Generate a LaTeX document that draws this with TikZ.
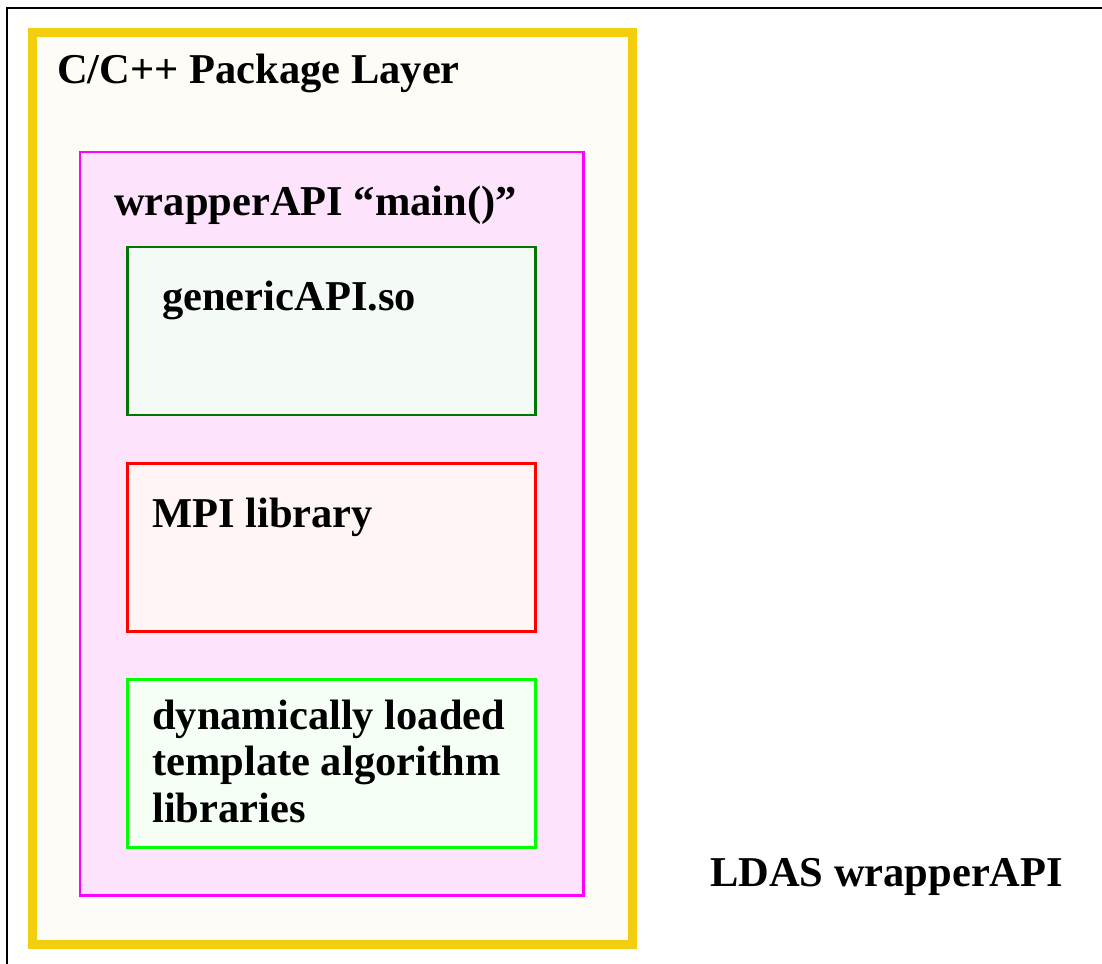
\documentclass[tikz,border=0pt]{standalone}
\usepackage{fontspec}
\setmainfont{Liberation Serif}
\definecolor{yel}{HTML}{F3CE0E}
\definecolor{yelfill}{HTML}{FDFCF7}
\definecolor{mag}{HTML}{FF00FF}
\definecolor{magfill}{HTML}{FDE4FC}
\definecolor{dgreen}{HTML}{007700}
\definecolor{dgreenfill}{HTML}{F4FAF6}
\definecolor{redfill}{HTML}{FFF5F5}
\definecolor{lgreen}{HTML}{00FF00}
\definecolor{lgreenfill}{HTML}{F6FFF5}
\tikzset{
  box/.style={draw, rectangle, inner sep=0pt, outer sep=0pt},
  lbl/.style={anchor=base west, inner sep=0pt, font=\fontsize{42.5}{46.7}\selectfont\bfseries, align=left},
}
\begin{document}
\begin{tikzpicture}[x=1pt, y=-1pt]
\useasboundingbox (0,0) rectangle (1102,963);
\begin{scope}
\clip (0,0) rectangle (1102,963);
\draw[line width=2.4pt, fill=white] (7,8) rectangle (1120,980);
\end{scope}
\node[box, line width=9pt, draw=yel, fill=yelfill, minimum width=599.5pt, minimum height=912pt] (layer) at (332.25,488.5) {};
\node[box, line width=2.4pt, draw=mag, fill=magfill, minimum width=503.5pt, minimum height=743.5pt] (wrapper) at (331.75,523.75) {};
\node[box, line width=2.4pt, draw=dgreen, fill=dgreenfill, minimum width=408pt, minimum height=168pt] (generic) at (331.5,331) {};
\node[box, line width=2.4pt, draw=red, fill=redfill, minimum width=408pt, minimum height=168pt] (mpi) at (331.5,547.5) {};
\node[box, line width=2.4pt, draw=lgreen, fill=lgreenfill, minimum width=408pt, minimum height=168pt] (algo) at (331.5,763.5) {};
\node[lbl] (layertext) at (57,84) {C/C++ Package Layer};
\node[lbl] (wrappertext) at (114,215) {wrapperAPI “main()”};
\node[lbl] (generictext) at (162,310) {genericAPI.so};
\node[lbl] (mpitext) at (152,527) {MPI library};
\node[lbl] (algotext) at (152,822.4) {dynamically loaded\\template algorithm\\libraries};
\node[lbl] (ldastext) at (710,886) {LDAS wrapperAPI};
\end{tikzpicture}
\end{document}
